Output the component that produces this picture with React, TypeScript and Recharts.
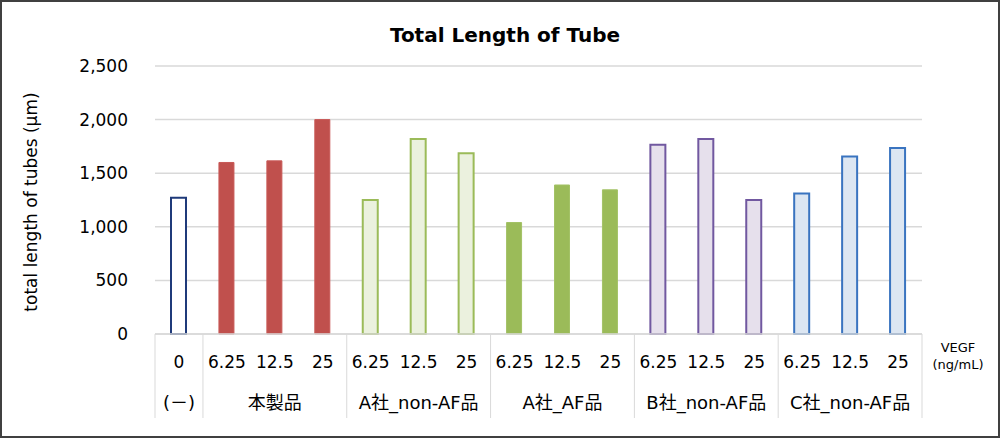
import React from 'react';
import { BarChart, Bar, XAxis, YAxis, CartesianGrid, Cell } from 'recharts';

const doses = ['0', '6.25', '12.5', '25', '6.25', '12.5', '25', '6.25', '12.5', '25', '6.25', '12.5', '25', '6.25', '12.5', '25'];
const groupOf = [0, 1, 1, 1, 2, 2, 2, 3, 3, 3, 4, 4, 4, 5, 5, 5];
const groupNames = ['(－)', '本製品', 'A社_non-AF品', 'A社_AF品', 'B社_non-AF品', 'C社_non-AF品'];
const tubeLength = [1270, 1600, 1615, 2000, 1250, 1820, 1685, 1040, 1390, 1345, 1765, 1820, 1250, 1310, 1655, 1735];
const yTicks = [0, 500, 1000, 1500, 2000, 2500];

const data = doses.map((dose, i) => ({ dose, value: tubeLength[i], group: groupOf[i] }));

const groupStyle = [
  { fill: '#FFFFFF', stroke: '#1F3A7A', width: 2 },
  { fill: '#C0504D', stroke: '#C85856', width: 1 },
  { fill: '#EBF1DE', stroke: '#9BBB59', width: 2 },
  { fill: '#9BBB59', stroke: '#A3C266', width: 1 },
  { fill: '#E6E0EC', stroke: '#7158A0', width: 2 },
  { fill: '#DCE6F2', stroke: '#3A74C0', width: 2 },
];

const W = 1000;
const H = 438;
const PLOT_LEFT = 155;
const PLOT_RIGHT = 922;
const PLOT_TOP = 66;
const PLOT_BOTTOM = 334;
const BAND = (PLOT_RIGHT - PLOT_LEFT) / doses.length;
const FONT = '"DejaVu Sans", "Noto Sans CJK JP", sans-serif';

const DoseTick = (props: any) => {
  const { x, y, payload } = props;
  const i = payload.index;
  const g = groupOf[i];
  const members = groupOf.map((v, k) => (v === g ? k : -1)).filter((k) => k >= 0);
  const middle = members[Math.floor(members.length / 2)];
  const first = i === 0 || groupOf[i - 1] !== g;
  const lastAll = i === doses.length - 1;
  return (
    <g>
      {first && <line x1={x - BAND / 2} x2={x - BAND / 2} y1={y} y2={y + 84} stroke="#D9D9D9" strokeWidth={1} />}
      {lastAll && <line x1={x + BAND / 2} x2={x + BAND / 2} y1={y} y2={y + 84} stroke="#D9D9D9" strokeWidth={1} />}
      <text x={x} y={y + 34} textAnchor="middle" fontSize={17} fill="#000" fontFamily={FONT}>
        {payload.value}
      </text>
      {i === middle && (
        <text x={x} y={y + 75} textAnchor="middle" fontSize={18} fill="#000" fontFamily={FONT}>
          {groupNames[g]}
        </text>
      )}
    </g>
  );
};

export default function App() {
  return (
    <div
      style={{
        position: 'absolute',
        left: 0,
        top: 0,
        width: W,
        height: H,
        boxSizing: 'border-box',
        border: '2px solid #404040',
        background: '#fff',
        fontFamily: FONT,
      }}
    >
      <div style={{ position: 'absolute', left: -2, top: -2 }}>
        <BarChart
          width={W}
          height={H}
          data={data}
          margin={{ top: PLOT_TOP, right: W - PLOT_RIGHT, left: 0, bottom: 0 }}
          barCategoryGap={0}
        >
          <CartesianGrid vertical={false} stroke="#D9D9D9" strokeWidth={1.5} />
          <XAxis
            dataKey="dose"
            height={H - PLOT_BOTTOM}
            interval={0}
            tickLine={false}
            tickSize={0}
            tickMargin={0}
            axisLine={{ stroke: '#D9D9D9', strokeWidth: 1.5 }}
            tick={<DoseTick />}
          />
          <YAxis
            width={PLOT_LEFT}
            domain={[0, 2500]}
            ticks={yTicks}
            axisLine={false}
            tickLine={false}
            tickSize={0}
            tickMargin={27}
            tickFormatter={(v: number) => v.toLocaleString('en-US')}
            tick={{ fontSize: 17, fill: '#000', fontFamily: FONT }}
          />
          <Bar dataKey="value" barSize={15} isAnimationActive={false}>
            {data.map((d, i) => (
              <Cell
                key={i}
                fill={groupStyle[d.group].fill}
                stroke={groupStyle[d.group].stroke}
                strokeWidth={groupStyle[d.group].width}
              />
            ))}
          </Bar>
        </BarChart>
      </div>
      <svg width={W} height={H} style={{ position: 'absolute', left: -2, top: -2, pointerEvents: 'none' }}>
        <text x={505} y={42} textAnchor="middle" fontSize={20} fontWeight="bold" fill="#000" fontFamily={FONT}>
          Total Length of Tube
        </text>
        <text
          x={31}
          y={202}
          transform="rotate(-90 31 202)"
          textAnchor="middle"
          dominantBaseline="central"
          fontSize={17}
          fill="#000"
          fontFamily={FONT}
        >
          total length of tubes (µm)
        </text>
        <text x={958} y={352} textAnchor="middle" fontSize={13} fill="#000" fontFamily={FONT}>
          VEGF
        </text>
        <text x={958} y={369} textAnchor="middle" fontSize={13} fill="#000" fontFamily={FONT}>
          (ng/mL)
        </text>
      </svg>
    </div>
  );
}
